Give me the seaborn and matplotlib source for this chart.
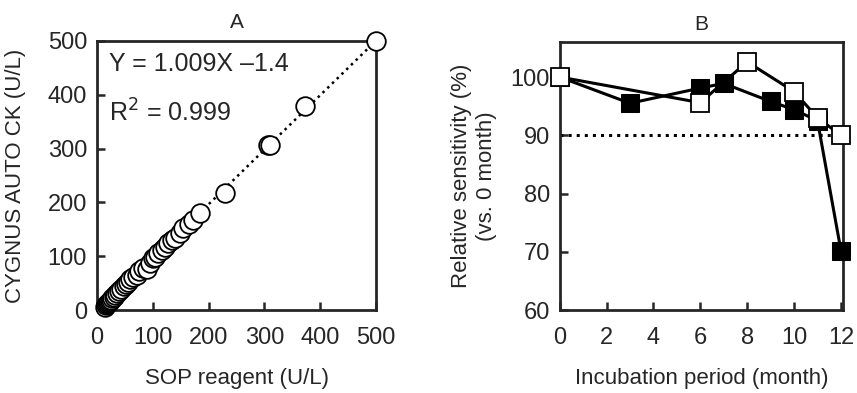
import matplotlib
matplotlib.use('Agg')
import matplotlib.pyplot as plt
import seaborn as sns
import pandas as pd

# Panel A: method comparison (U/L)
sop = [14, 16, 18, 20, 22, 23, 25, 28, 30, 33, 36, 40, 44, 48, 52, 56, 60, 65, 71, 76,
       82, 89, 95, 100, 104, 110, 116, 122, 128, 134, 140, 148, 155, 165, 172, 185,
       229, 307, 310, 373, 500]
cygnus = [6, 9, 11, 13, 15, 16, 18, 22, 25, 28, 32, 36, 40, 44, 48, 52, 57, 62, 65, 72,
          78, 77, 87, 96, 99, 106, 112, 118, 124, 130, 133, 144, 152, 160, 167, 180,
          217, 306, 307, 379, 500]
slope, intercept = 1.009, -1.4

# Panel B: stability over months
months_open = [0, 6, 8, 10, 11, 12]
sens_open = [100, 95.6, 102.6, 97.5, 93.0, 90.0]
months_filled = [0, 3, 6, 7, 9, 10, 11, 12]
sens_filled = [100, 95.5, 98.1, 98.9, 95.8, 94.4, 92.5, 70.2]
threshold = 90

sns.set_style('ticks')
plt.rcParams['font.family'] = ['Liberation Sans', 'DejaVu Sans']

fig = plt.figure(figsize=(8.57, 3.93), dpi=100)
ax1 = fig.add_axes([0.113, 0.211, 0.326, 0.685])
ax2 = fig.add_axes([0.653, 0.211, 0.331, 0.682])

dfa = pd.DataFrame({'sop': sop, 'cygnus': cygnus})
sns.regplot(data=dfa, x='sop', y='cygnus', ax=ax1, ci=None, scatter=False,
            line_kws=dict(color='black', ls=':', lw=1.8))
sns.scatterplot(data=dfa, x='sop', y='cygnus', ax=ax1, s=180, facecolor='white',
                edgecolor='black', linewidth=1.3, clip_on=False, zorder=3)
ax1.set_xlim(0, 500)
ax1.set_ylim(0, 500)
ax1.set_xticks(range(0, 501, 100))
ax1.set_yticks(range(0, 501, 100))
ax1.set_xlabel('SOP reagent (U/L)', fontsize=16, labelpad=14)
ax1.set_ylabel('CYGNUS AUTO CK (U/L)', fontsize=16, labelpad=16)
ax1.set_title('A', fontsize=15, pad=9)
ax1.text(0.045, 0.914, 'Y = %.3fX \u2013%.1f' % (slope, -intercept), transform=ax1.transAxes,
         fontsize=18, va='center')
ax1.text(0.045, 0.732, 'R$^2$ = 0.999', transform=ax1.transAxes, fontsize=18, va='center')

dfo = pd.DataFrame({'month': months_open, 'sens': sens_open})
dff = pd.DataFrame({'month': months_filled, 'sens': sens_filled})
ax2.axhline(threshold, color='black', ls=':', lw=2.2, xmax=0.99)
sns.lineplot(data=dff, x='month', y='sens', ax=ax2, color='black', lw=2.2, marker='s',
             markersize=13, markerfacecolor='black', markeredgecolor='black',
             clip_on=False, zorder=3)
sns.lineplot(data=dfo, x='month', y='sens', ax=ax2, color='black', lw=2.2, marker='s',
             markersize=13, markerfacecolor='white', markeredgecolor='black',
             markeredgewidth=1.3, clip_on=False, zorder=4)
ax2.set_xlim(0, 12.1)
ax2.set_ylim(60, 106)
ax2.set_xticks(range(0, 13, 2))
ax2.set_yticks(range(60, 101, 10))
ax2.set_xlabel('Incubation period (month)', fontsize=16, labelpad=14)
ax2.set_ylabel('Relative sensitivity (%)\n(vs. 0 month)', fontsize=16, labelpad=10)
ax2.set_title('B', fontsize=15, pad=9)

for ax in (ax1, ax2):
    for sp in ax.spines.values():
        sp.set_visible(True)
        sp.set_linewidth(2)
    ax.tick_params(direction='in', length=6, width=1.8, labelsize=17)
    ax.tick_params(axis='x', pad=12)
    ax.tick_params(axis='y', pad=7)

fig.savefig('out.png', dpi=100)
